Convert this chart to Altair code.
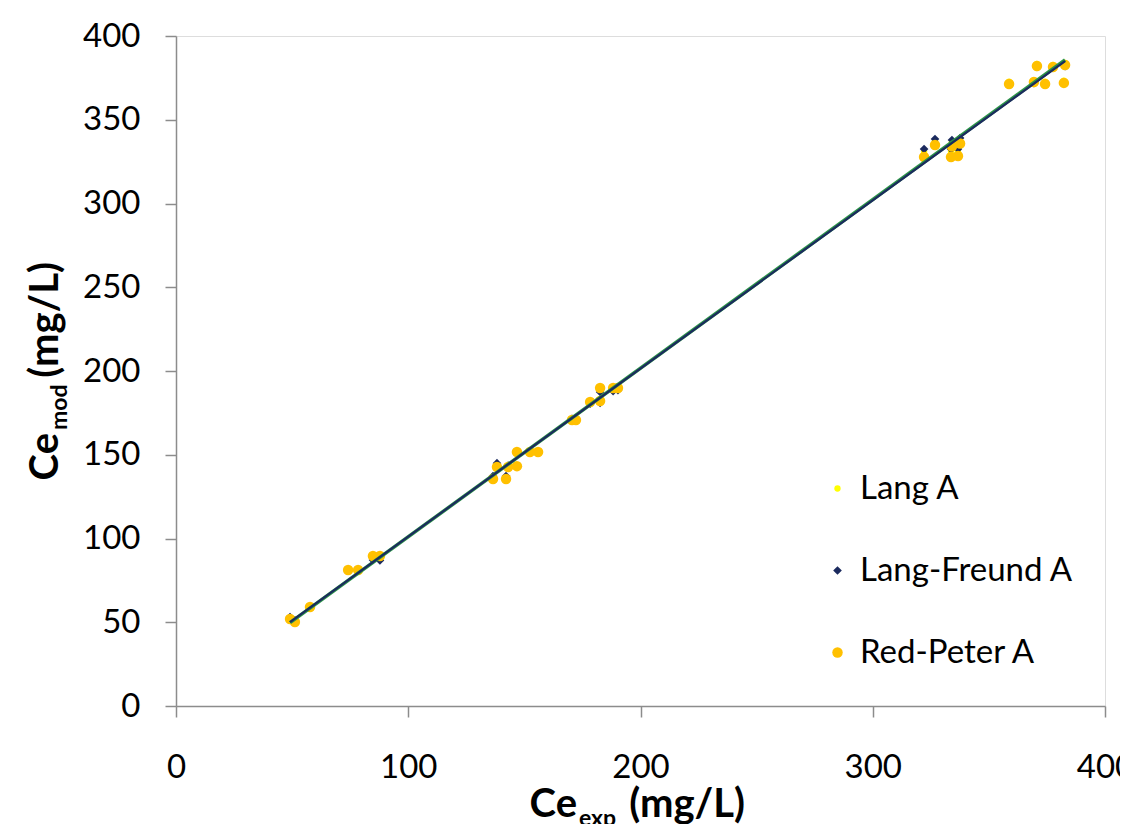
import altair as alt
import pandas as pd

series_names = ["Lang A", "Lang-Freund A", "Red-Peter A"]
series_colors = ["#FFFF00", "#1B2A5E", "#FFC000"]
series_shapes = ["circle", "diamond", "circle"]
series_sizes = [40, 110, 140]

x_ticks = [0, 100, 200, 300, 400]
y_ticks = [0, 50, 100, 150, 200, 250, 300, 350, 400]

# Red-Peter A
rp_x = [49.1, 51.2, 57.7, 74.1, 78.4, 84.8, 87.8,
        136.5, 142.1, 138.2, 143.0, 146.8, 146.8, 152.4, 155.9,
        170.5, 172.2, 178.3, 182.6, 182.6, 188.2, 190.3,
        322.1, 326.8, 333.7, 336.7, 337.6, 334.1,
        358.7, 369.4, 370.7, 374.2, 377.6, 382.3, 382.8]
rp_y = [51.9, 50.1, 59.1, 81.2, 81.2, 89.6, 89.6,
        135.5, 135.5, 142.7, 142.7, 143.2, 151.6, 151.6, 151.6,
        170.7, 170.7, 181.5, 189.9, 182.1, 189.9, 189.9,
        327.8, 334.9, 327.8, 328.4, 335.8, 334.0,
        371.3, 372.5, 382.1, 371.3, 381.5, 372.0, 382.7]

# Lang-Freund A
lf_x = [49.1, 51.2, 57.7, 74.1, 78.4, 84.8, 87.8,
        136.5, 142.1, 138.2, 143.0, 146.8, 146.8, 152.4, 155.9,
        170.5, 172.2, 178.3, 182.6, 182.6, 188.2, 190.3,
        322.1, 326.8, 333.7, 336.7, 337.6, 334.1,
        358.7, 369.4, 370.7, 374.2, 377.6, 382.3, 382.8]
lf_y = [53.1, 51.2, 59.5, 81.5, 81.0, 87.2, 86.9,
        137.3, 137.3, 145.0, 143.5, 143.0, 151.0, 151.5, 151.2,
        171.5, 171.0, 180.5, 187.5, 181.0, 188.0, 188.5,
        332.5, 338.5, 332.5, 332.5, 339.1, 337.9,
        371.3, 371.8, 381.5, 371.0, 381.0, 371.5, 382.0]

# Lang A
la_x = [49.1, 51.2, 57.7, 74.1, 78.4, 84.8, 87.8,
        136.5, 142.1, 138.2, 143.0, 146.8, 146.8, 152.4, 155.9,
        170.5, 172.2, 178.3, 182.6, 182.6, 188.2, 190.3,
        322.1, 326.8, 333.7, 336.7, 337.6, 334.1,
        358.7, 369.4, 370.7, 374.2, 377.6, 382.3, 382.8]
la_y = [52.4, 50.8, 59.3, 81.3, 81.1, 88.5, 88.3,
        136.4, 136.4, 143.8, 143.1, 143.1, 151.3, 151.5, 151.4,
        171.1, 170.9, 181.0, 188.7, 181.5, 189.0, 189.2,
        331.0, 337.7, 331.1, 331.4, 338.5, 337.0,
        372.8, 373.6, 383.3, 372.7, 382.8, 373.3, 383.9]

rows = []
for name, xs, ys in [("Lang A", la_x, la_y), ("Lang-Freund A", lf_x, lf_y), ("Red-Peter A", rp_x, rp_y)]:
    for a, b in zip(xs, ys):
        rows.append({"series": name, "ce_exp": a, "ce_mod": b})
df = pd.DataFrame(rows)

FONT = "Lato"
AXIS_GRAY = "#8C8C8C"

xscale = alt.Scale(domain=[0, 400], nice=False, zero=False)
yscale = alt.Scale(domain=[0, 400], nice=False, zero=False)

xaxis = alt.Axis(values=x_ticks, title=None, grid=False, labelFontSize=33, labelFont=FONT,
                 labelColor="black", tickSize=11, tickColor=AXIS_GRAY, domainColor=AXIS_GRAY,
                 tickWidth=1.5, domainWidth=1.5, labelPadding=34, labelFlush=False)
yaxis = alt.Axis(values=y_ticks, title=None, grid=False, labelFontSize=33, labelFont=FONT,
                 labelColor="black", tickSize=11, tickColor=AXIS_GRAY, domainColor=AXIS_GRAY,
                 tickWidth=1.5, domainWidth=1.5, labelPadding=25)

legend = alt.Legend(title=None, orient="none", legendX=645, legendY=436,
                    labelFontSize=33, labelFont=FONT, labelColor="black", labelLimit=0,
                    symbolSize=40, rowPadding=48, labelOffset=6,
                    padding=0, symbolStrokeWidth=0)

points = alt.Chart(df).mark_point(filled=True, opacity=1, strokeWidth=0).encode(
    x=alt.X("ce_exp:Q", scale=xscale, axis=xaxis),
    y=alt.Y("ce_mod:Q", scale=yscale, axis=yaxis),
    color=alt.Color("series:N", scale=alt.Scale(domain=series_names, range=series_colors), legend=legend),
    shape=alt.Shape("series:N", scale=alt.Scale(domain=series_names, range=series_shapes), legend=legend),
    size=alt.Size("series:N", scale=alt.Scale(domain=series_names, range=series_sizes), legend=None),
)

green_line = alt.Chart(df[df.series == "Lang A"]).transform_regression(
    "ce_exp", "ce_mod").mark_line(color="#2B9348", strokeWidth=3.5).encode(
    x=alt.X("ce_exp:Q", scale=xscale), y=alt.Y("ce_mod:Q", scale=yscale))
navy_line = alt.Chart(df[df.series == "Lang-Freund A"]).transform_regression(
    "ce_exp", "ce_mod").mark_line(color="#1B2A5E", strokeWidth=2.2).encode(
    x=alt.X("ce_exp:Q", scale=xscale), y=alt.Y("ce_mod:Q", scale=yscale))

one = pd.DataFrame({"k": [0]})

def label(text, x, y, size, align, angle=0, baseline="alphabetic"):
    return alt.Chart(one).mark_text(text=text, font=FONT, fontWeight="bold", fontSize=size,
                                    align=align, baseline=baseline, angle=angle, color="black").encode(
        x=alt.value(x), y=alt.value(y))

# x-axis title: Ce_exp (mg/L)
xt1 = label("Ce", 401, 781, 40, "right")
xt2 = label("exp", 403, 790, 23, "left")
xt3 = label("(mg/L)", 569, 781, 40, "right")
# y-axis title: Ce_mod (mg/L), rotated
yt1 = label("Ce", -118, 397, 40, "right", angle=270)
yt2 = label("mod", -109, 394, 23, "left", angle=270)
yt3 = label("(mg/L)", -118, 226, 40, "right", angle=270)

chart = alt.layer(points, green_line, navy_line, xt1, xt2, xt3, yt1, yt2, yt3).properties(
    width=929, height=670,
    autosize=alt.AutoSizeParams(type="none"),
    padding={"left": 168, "top": 28, "right": 15, "bottom": 118},
).configure_view(stroke=None).configure(background="white")

chart.save("out.html", embed_options={"renderer": "svg", "actions": False})
